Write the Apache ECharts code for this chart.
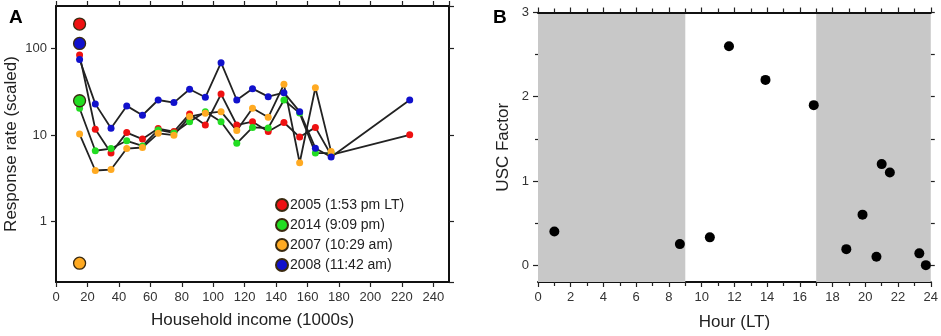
<!DOCTYPE html>
<html><head><meta charset="utf-8">
<script src="https://cdn.jsdelivr.net/npm/echarts@6/dist/echarts.min.js"></script>
<style>html,body{margin:0;padding:0;background:#fff}#c{width:941px;height:336px}</style>
</head><body><div id="c"></div>
<script>
// ---- Panel A data ----
const incomeX = [15,25,35,45,55,65,75,85,95,105,115,125,135,145,155,165,175,225];
const rate2005 = [84.6,11.7,6.2,10.7,9.0,11.9,11.0,17.6,13.1,29.9,13.1,14.3,11.0,14.0,9.5,12.3,5.9,10.1];
const rate2014 = [20.5,6.6,7.0,8.6,7.5,11.5,10.6,14.3,18.7,14.3,8.05,12.3,12.1,25.5,18.0,6.2,6.2];
const rate2007 = [10.3,3.9,4.0,7.0,7.2,10.5,10.0,16.4,17.9,18.7,11.3,20.5,16.1,38.7,4.8,35.4,6.45];
const rate2008 = [75,23,12.0,21.8,17.0,25.5,23.8,34,27.4,68.9,25.5,34.5,27.9,31,18.7,7.06,5.6,25.5];
const yearLabels = ['2005 (1:53 pm LT)','2014 (9:09 pm)','2007 (10:29 am)','2008 (11:42 am)'];
const overallX = 15;
const overallRate = [193, 25, 0.33, 115];
const incomeTicks = { min: 0, max: 250, interval: 20 };
const rateRange = { min: 0.2, max: 312 };

// ---- Panel B data ----
const hourX = [1.0,8.67,10.5,11.67,13.9,16.85,18.84,19.83,20.68,21.0,21.5,23.3,23.7];
const uscFactor = [0.40,0.25,0.33,2.60,2.20,1.90,0.19,0.60,0.10,1.20,1.10,0.14,0.0];
const nightBands = [[0,9],[17,24]];
const uscLabelValues = [0,1,2,3];
const uscHalfValues = [0.5,1.5,2.5];

const colors = ['#ee1111','#22dd22','#ffaa22','#1111cc'];
const rateSeries = [rate2005, rate2014, rate2007, rate2008];
const FONT = 'Liberation Sans, Arial, Helvetica, sans-serif';

const chart = echarts.init(document.getElementById('c'), null, {renderer:'canvas'});

const tickStyle = { lineStyle: { color: '#222', width: 1.2 } };
const axisLine = { show: true, onZero: false, lineStyle: { color: '#111', width: 2 } };
const noLine = { show: false, onZero: false };
const lbl = { color: '#333', fontSize: 13, fontFamily: FONT };

const series = [];
rateSeries.forEach((arr, i) => {
  series.push({
    type: 'line', name: 'line' + i, xAxisIndex: 0, yAxisIndex: 0,
    data: arr.map((v, k) => [incomeX[k], v]),
    symbol: 'circle', symbolSize: 7, showSymbol: true,
    itemStyle: { color: colors[i], borderWidth: 0 },
    lineStyle: { color: '#222', width: 1.8 },
    emphasis: { disabled: true }, silent: true, animation: false, z: 3
  });
});
overallRate.forEach((v, i) => {
  series.push({
    type: 'scatter', name: yearLabels[i], xAxisIndex: 0, yAxisIndex: 0,
    data: [[overallX, v]], symbol: 'circle', symbolSize: 12,
    itemStyle: { color: colors[i], borderColor: '#3a2a10', borderWidth: 1.3, opacity: 1 },
    emphasis: { disabled: true }, silent: true, animation: false, z: 4
  });
});
series.push({
  type: 'scatter', name: 'usc', xAxisIndex: 2, yAxisIndex: 2,
  data: hourX.map((h, k) => [h, uscFactor[k]]),
  symbol: 'circle', symbolSize: 10,
  itemStyle: { color: '#000', opacity: 1 },
  markArea: {
    silent: true,
    itemStyle: { color: '#c8c8c8', opacity: 1 },
    data: nightBands.map(b => [{ xAxis: b[0] }, { xAxis: b[1] }])
  },
  emphasis: { disabled: true }, silent: true, animation: false
});

const minor = { show: true, splitNumber: 2, length: 4, lineStyle: { color: '#222', width: 1.2 } };

const option = {
  animation: false,
  backgroundColor: '#fff',
  textStyle: { fontFamily: FONT },
  title: [
    { text: 'A', left: 4, top: 3, textStyle: { fontSize: 19, fontWeight: 'bold', color: '#000', fontFamily: FONT } },
    { text: 'B', left: 488, top: 3, textStyle: { fontSize: 19, fontWeight: 'bold', color: '#000', fontFamily: FONT } }
  ],
  legend: {
    data: yearLabels, orient: 'vertical', left: 270, top: 193,
    itemWidth: 12, itemHeight: 12, itemGap: 6, icon: 'circle',
    textStyle: { fontSize: 14, color: '#222', fontFamily: FONT, padding: [0,0,0,-3] },
    selectedMode: false
  },
  grid: [
    { left: 56, top: 6, width: 393, height: 276 },
    { left: 538, top: 12.5, width: 394, height: 275 }
  ],
  xAxis: [
    { type: 'value', gridIndex: 0, position: 'bottom', min: incomeTicks.min, max: incomeTicks.max, interval: incomeTicks.interval,
      name: 'Household income (1000s)', nameLocation: 'middle', nameGap: 30,
      nameTextStyle: { fontSize: 17, color: '#222', fontFamily: FONT },
      axisLine: axisLine, axisTick: { show: true, inside: false, length: 5, ...tickStyle },
      axisLabel: { ...lbl, margin: 9, showMaxLabel: false, formatter: v => (v <= 240 ? v : '') }, splitLine: { show: false } },
    { type: 'value', gridIndex: 0, position: 'top', min: incomeTicks.min, max: incomeTicks.max, interval: incomeTicks.interval,
      axisLine: axisLine, axisTick: { show: true, inside: false, length: 5, ...tickStyle },
      axisLabel: { show: false }, splitLine: { show: false } },
    { type: 'value', gridIndex: 1, position: 'bottom', min: 0, max: 24, interval: 2, z: 0,
      name: 'Hour (LT)', nameLocation: 'middle', nameGap: 32,
      nameTextStyle: { fontSize: 17, color: '#222', fontFamily: FONT },
      axisLine: axisLine, axisTick: { show: true, inside: false, length: 5, ...tickStyle },
      minorTick: minor,
      axisLabel: { ...lbl, margin: 9 }, splitLine: { show: false } },
    { type: 'value', gridIndex: 1, position: 'top', min: 0, max: 24, interval: 2, z: 10,
      axisLine: axisLine, axisTick: { show: true, inside: false, length: 5, ...tickStyle },
      minorTick: minor,
      axisLabel: { show: false }, splitLine: { show: false } }
  ],
  yAxis: [
    { type: 'log', gridIndex: 0, position: 'left', logBase: 10, min: rateRange.min, max: rateRange.max,
      name: 'Response rate (scaled)', nameLocation: 'middle', nameGap: 36,
      nameTextStyle: { fontSize: 17, color: '#222', fontFamily: FONT },
      axisLine: axisLine, axisTick: { show: true, inside: false, length: 5, ...tickStyle },
      axisLabel: { ...lbl, margin: 9, showMinLabel: false, showMaxLabel: false }, splitLine: { show: false } },
    { type: 'log', gridIndex: 0, position: 'right', logBase: 10, min: rateRange.min, max: rateRange.max,
      axisLine: axisLine, axisTick: { show: true, inside: false, length: 5, ...tickStyle },
      axisLabel: { show: false }, splitLine: { show: false } },
    { type: 'value', gridIndex: 1, position: 'left', min: -0.2, max: 3, z: 0,
      name: 'USC Factor', nameLocation: 'middle', nameGap: 26,
      nameTextStyle: { fontSize: 17, color: '#222', fontFamily: FONT },
      axisLine: noLine,
      axisTick: { show: true, inside: false, length: 5, customValues: uscLabelValues, ...tickStyle },
      axisLabel: { ...lbl, margin: 9, customValues: uscLabelValues }, splitLine: { show: false } },
    { type: 'value', gridIndex: 1, position: 'left', min: -0.2, max: 3, z: 0,
      axisLine: noLine,
      axisTick: { show: true, inside: false, length: 3, customValues: uscHalfValues, ...tickStyle },
      axisLabel: { show: false }, splitLine: { show: false } },
    { type: 'value', gridIndex: 1, position: 'right', min: -0.2, max: 3, z: 0,
      axisLine: noLine,
      axisTick: { show: true, inside: false, length: 4, customValues: uscLabelValues.concat(uscHalfValues), ...tickStyle },
      axisLabel: { show: false }, splitLine: { show: false } }
  ],
  series: series
};
chart.setOption(option);
</script></body></html>
